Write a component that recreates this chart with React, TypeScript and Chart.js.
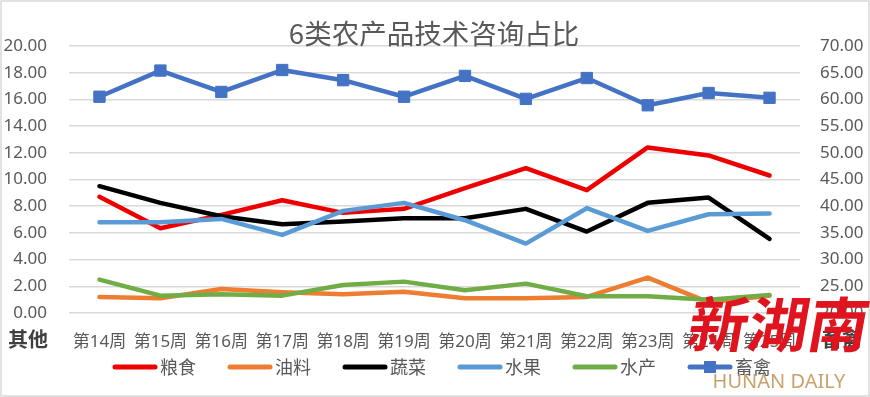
import React, { useEffect, useRef } from "react";
import { Chart, registerables } from "chart.js";

Chart.register(...registerables);

const chartTitle = "6类农产品技术咨询占比";
const weeks = ["第14周", "第15周", "第16周", "第17周", "第18周", "第19周", "第20周", "第21周", "第22周", "第23周", "第24周", "第25周"];
const seriesNames = ["粮食", "油料", "蔬菜", "水果", "水产", "畜禽"];
const seriesColors = ["#EE0000", "#ED7D31", "#000000", "#5B9BD5", "#70AD47", "#4472C4"];
const grain = [8.7, 6.35, 7.35, 8.45, 7.5, 7.8, 9.35, 10.85, 9.2, 12.4, 11.8, 10.3];
const oil = [1.2, 1.1, 1.8, 1.55, 1.4, 1.6, 1.1, 1.1, 1.2, 2.65, 0.8, 1.3];
const vegetables = [9.5, 8.25, 7.25, 6.65, 6.85, 7.1, 7.1, 7.8, 6.1, 8.25, 8.65, 5.55];
const fruit = [6.8, 6.8, 7.05, 5.85, 7.65, 8.25, 6.95, 5.2, 7.85, 6.15, 7.4, 7.45];
const aquatic = [2.5, 1.3, 1.4, 1.3, 2.1, 2.35, 1.7, 2.2, 1.25, 1.25, 1.0, 1.35];
const livestock = [60.5, 65.4, 61.4, 65.5, 63.6, 60.5, 64.4, 60.1, 64.0, 58.9, 61.2, 60.3];
const leftAxisTitle = "其他";
const rightAxisTitle = "畜禽";
const leftRange = [0, 20, 2];
const rightRange = [20, 70, 5];
const watermarkMain = "新湖南";
const watermarkSub = "HUNAN DAILY";

const FONT = "'Noto Sans', 'Noto Sans CJK SC', sans-serif";
const CJK = "'Noto Sans CJK SC', 'Noto Sans', sans-serif";

const decorPlugin = {
  id: "decor",
  afterDraw(chart: any) {
    const ctx = chart.ctx as CanvasRenderingContext2D;
    const w = chart.width;
    const h = chart.height;
    ctx.save();
    // outer border
    ctx.strokeStyle = "#D9D9D9";
    ctx.lineWidth = 1.5;
    ctx.strokeRect(1, 1, w - 2, h - 2);

    // title
    ctx.fillStyle = "#595959";
    ctx.font = `27.5px ${CJK}`;
    ctx.textAlign = "center";
    ctx.textBaseline = "middle";
    ctx.fillText(chartTitle, 434, 34);

    // axis titles at bottom
    ctx.fillStyle = "#404040";
    ctx.font = `bold 20px ${CJK}`;
    ctx.fillText(leftAxisTitle, 28, 339);
    ctx.fillText(rightAxisTitle, 842, 339);

    // legend
    const ly = 367;
    seriesNames.forEach((name, i) => {
      const x0 = 113 + i * 115;
      const color = seriesColors[i];
      ctx.strokeStyle = color;
      ctx.lineWidth = 5;
      ctx.lineCap = "round";
      ctx.beginPath();
      ctx.moveTo(x0 + 2, ly);
      ctx.lineTo(x0 + 42, ly);
      ctx.stroke();
      if (i === 5) {
        ctx.fillStyle = color;
        ctx.fillRect(x0 + 22 - 6, ly - 6, 12, 12);
      }
      ctx.fillStyle = "#595959";
      ctx.font = `18px ${CJK}`;
      ctx.textAlign = "left";
      ctx.textBaseline = "middle";
      ctx.fillText(name, x0 + 47, ly);
    });

    // watermark
    ctx.save();
    ctx.translate(779, 324);
    ctx.transform(1, 0, -0.18, 1, 0, 0);
    ctx.fillStyle = "#E0141E";
    ctx.font = `bold 60px ${CJK}`;
    ctx.textAlign = "center";
    ctx.textBaseline = "middle";
    ctx.fillText(watermarkMain, 0, 0);
    ctx.restore();
    ctx.fillStyle = "#C8A26A";
    ctx.font = `20px ${FONT}`;
    ctx.textAlign = "center";
    ctx.textBaseline = "middle";
    ctx.fillText(watermarkSub, 779, 382);
    ctx.restore();
  },
};

export default function App() {
  const ref = useRef<HTMLCanvasElement>(null);
  useEffect(() => {
    if (!ref.current) return;
    const mk = (i: number, data: number[], axis: string, extra: any = {}) => ({
      label: seriesNames[i],
      data,
      yAxisID: axis,
      borderColor: seriesColors[i],
      backgroundColor: seriesColors[i],
      borderWidth: 4.5,
      borderCapStyle: "round",
      borderJoinStyle: "round",
      pointRadius: 0,
      tension: 0,
      order: 6 - i,
      ...extra,
    });
    const chart = new Chart(ref.current, {
      type: "line",
      data: {
        labels: weeks,
        datasets: [
          mk(0, grain, "y"),
          mk(1, oil, "y"),
          mk(2, vegetables, "y"),
          mk(3, fruit, "y"),
          mk(4, aquatic, "y"),
          mk(5, livestock, "y1", { pointRadius: 8, pointStyle: "rect", pointBorderWidth: 1 }),
        ] as any,
      },
      options: {
        responsive: false,
        animation: false,
        layout: { padding: 0 },
        plugins: { legend: { display: false }, title: { display: false }, tooltip: { enabled: false } },
        scales: {
          x: {
            offset: true,
            grid: { display: false },
            border: { display: false },
            ticks: { color: "#595959", font: { family: FONT, size: 17 }, padding: 11, maxRotation: 0, autoSkip: false },
            afterFit: (s: any) => { s.height = 84; },
          },
          y: {
            position: "left",
            min: leftRange[0],
            max: leftRange[1],
            grid: { color: "#D9D9D9", lineWidth: 1.5, drawTicks: false },
            border: { display: false },
            ticks: {
              stepSize: leftRange[2],
              color: "#595959",
              font: { family: FONT, size: 17 },
              padding: 22,
              callback: (v: any) => Number(v).toFixed(2),
            },
            afterFit: (s: any) => { s.width = 69; },
          },
          y1: {
            position: "right",
            min: rightRange[0],
            max: rightRange[1],
            grid: { display: false, drawTicks: false },
            border: { display: false },
            ticks: {
              stepSize: rightRange[2],
              color: "#595959",
              font: { family: FONT, size: 17 },
              padding: 20,
              callback: (v: any) => Number(v).toFixed(2),
            },
            afterFit: (s: any) => { s.width = 70; },
          },
        },
      } as any,
      plugins: [
        { id: "topPad", beforeLayout(c: any) { c.options.layout.padding = { top: 46, left: 0, right: 0, bottom: 0 }; } },
        decorPlugin,
      ],
    });
    return () => chart.destroy();
  }, []);
  return (
    <div style={{ position: "absolute", left: 0, top: 0, width: 870, height: 397, background: "#fff" }}>
      <canvas ref={ref} width={870} height={397} style={{ display: "block" }} />
    </div>
  );
}
